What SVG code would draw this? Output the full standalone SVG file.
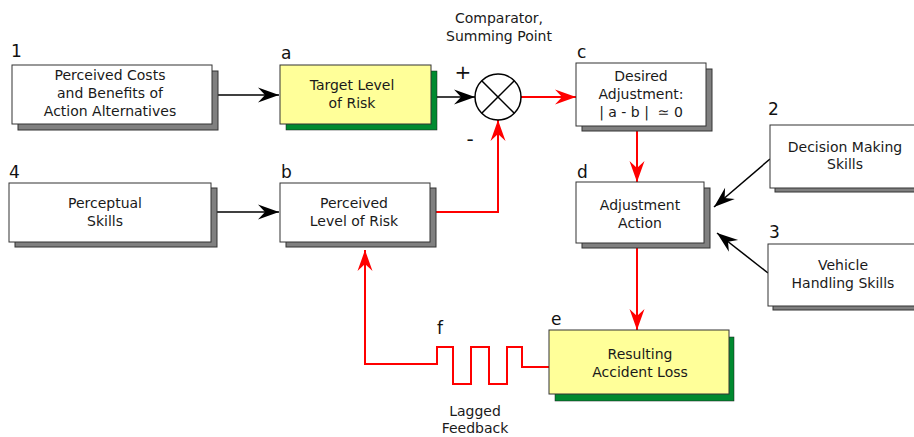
<svg xmlns="http://www.w3.org/2000/svg" width="914" height="437" viewBox="0 0 914 437">
<defs>
<style>
.box{fill:#fff;stroke:#333;stroke-width:1}
.ybox{fill:#ffff99;stroke:#333;stroke-width:1}
.sh{fill:#808080;stroke:#333;stroke-width:1}
.gsh{fill:#008a30;stroke:#1a1a1a;stroke-width:0.5}
text{font-family:"DejaVu Sans",Verdana,sans-serif;font-size:14px;fill:#1a1a1a}
.c{text-anchor:middle}
.lbl{font-size:17px;fill:#111}
.blk{fill:none;stroke:#000;stroke-width:1.5}
.red{fill:none;stroke:#f00;stroke-width:2}
</style>
<marker id="ab" markerUnits="userSpaceOnUse" markerWidth="24" markerHeight="18" viewBox="-22 -9 24 18" refX="0" refY="0" orient="auto">
<path d="M0,0 L-21,-7.5 L-14,0 L-21,7.5 Z" fill="#000"/>
</marker>
<marker id="ar" markerUnits="userSpaceOnUse" markerWidth="24" markerHeight="18" viewBox="-22 -9 24 18" refX="0" refY="0" orient="auto">
<path d="M0,0 L-21,-7.5 L-14,0 L-21,7.5 Z" fill="#f00"/>
</marker>
</defs>
<rect width="914" height="437" fill="#fff"/>

<g id="connectors">
<line class="blk" x1="212" y1="95" x2="279" y2="95" marker-end="url(#ab)"/>
<line class="blk" x1="431" y1="97" x2="475" y2="97" marker-end="url(#ab)"/>
<line class="red" x1="521" y1="97" x2="576" y2="97" marker-end="url(#ar)"/>
<line class="blk" x1="211" y1="212" x2="279" y2="212" marker-end="url(#ab)"/>
<polyline class="red" points="430,212 498,212 498,120" marker-end="url(#ar)"/>
<line class="red" x1="637" y1="126" x2="637" y2="182" marker-end="url(#ar)"/>
<line class="red" x1="637" y1="243" x2="637" y2="330" marker-end="url(#ar)"/>
<line class="blk" x1="770" y1="159" x2="714" y2="207" marker-end="url(#ab)"/>
<line class="blk" x1="768" y1="273" x2="717" y2="233" marker-end="url(#ab)"/>
<polyline class="red" points="549,367 522,367 522,347 507,347 507,384 489,384 489,347 471,347 471,384 453,384 453,347 437,347 437,364 365,364 365,250" marker-end="url(#ar)"/>
</g>

<g id="comparator">
<circle cx="498" cy="97" r="23" fill="#fff" stroke="#000" stroke-width="1.5"/>
<line x1="481.7" y1="80.7" x2="514.3" y2="113.3" stroke="#000" stroke-width="1.5"/>
<line x1="514.3" y1="80.7" x2="481.7" y2="113.3" stroke="#000" stroke-width="1.5"/>
<text class="c" x="499" y="23">Comparator,</text>
<text class="c" x="499" y="41">Summing Point</text>
<text class="lbl c" x="463" y="79" style="font-size:20px">+</text>
<text class="lbl c" x="470" y="146" style="font-size:20px">-</text>
</g>

<g id="node1">
<rect class="sh" x="18" y="71" width="200" height="59"/>
<rect class="box" x="12" y="65" width="200" height="59"/>
<text class="lbl" x="11" y="57">1</text>
<text class="c" x="110" y="80">Perceived Costs</text>
<text class="c" x="110" y="98">and Benefits of</text>
<text class="c" x="110" y="116">Action Alternatives</text>
</g>

<g id="nodeA">
<rect class="gsh" x="286" y="71" width="151" height="59"/>
<rect class="ybox" x="280" y="65" width="151" height="59"/>
<text class="lbl" x="281" y="59">a</text>
<text class="c" x="352" y="90">Target Level</text>
<text class="c" x="352" y="108">of Risk</text>
</g>

<g id="nodeC">
<rect class="sh" x="582" y="69" width="130" height="62"/>
<rect class="box" x="576" y="63" width="130" height="63"/>
<text class="lbl" x="577" y="58">c</text>
<text class="c" x="641" y="81">Desired</text>
<text class="c" x="641" y="99">Adjustment:</text>
<text class="c" x="641" y="117" xml:space="preserve">| a - b |  ≃ 0</text>
</g>

<g id="nodeD">
<rect class="sh" x="582" y="188" width="128" height="60"/>
<rect class="box" x="576" y="182" width="128" height="61"/>
<text class="lbl" x="577" y="178">d</text>
<text class="c" x="640" y="210">Adjustment</text>
<text class="c" x="640" y="228">Action</text>
</g>

<g id="node2">
<rect class="sh" x="775" y="130" width="150" height="62"/>
<rect class="box" x="770" y="125" width="150" height="63"/>
<text class="lbl" x="768" y="115">2</text>
<text class="c" x="845" y="152">Decision Making</text>
<text class="c" x="845" y="169">Skills</text>
</g>

<g id="node3">
<rect class="sh" x="773" y="248" width="150" height="62"/>
<rect class="box" x="768" y="244" width="150" height="62"/>
<text class="lbl" x="769" y="238">3</text>
<text class="c" x="843" y="270">Vehicle</text>
<text class="c" x="843" y="288">Handling Skills</text>
</g>

<g id="node4">
<rect class="sh" x="15" y="188" width="202" height="59"/>
<rect class="box" x="9" y="183" width="202" height="59"/>
<text class="lbl" x="9" y="178">4</text>
<text class="c" x="105" y="208">Perceptual</text>
<text class="c" x="105" y="226">Skills</text>
</g>

<g id="nodeB">
<rect class="sh" x="286" y="188" width="150" height="59"/>
<rect class="box" x="280" y="183" width="150" height="59"/>
<text class="lbl" x="281" y="178">b</text>
<text class="c" x="354" y="208">Perceived</text>
<text class="c" x="354" y="226">Level of Risk</text>
</g>

<g id="nodeE">
<rect class="gsh" x="555" y="337" width="179" height="64"/>
<rect class="ybox" x="549" y="330" width="180" height="64"/>
<text class="lbl" x="551" y="325">e</text>
<text class="c" x="640" y="359">Resulting</text>
<text class="c" x="640" y="377">Accident Loss</text>
</g>

<g id="lag">
<text class="lbl" x="437" y="334">f</text>
<text class="c" x="475" y="416">Lagged</text>
<text class="c" x="475" y="433">Feedback</text>
</g>
</svg>
